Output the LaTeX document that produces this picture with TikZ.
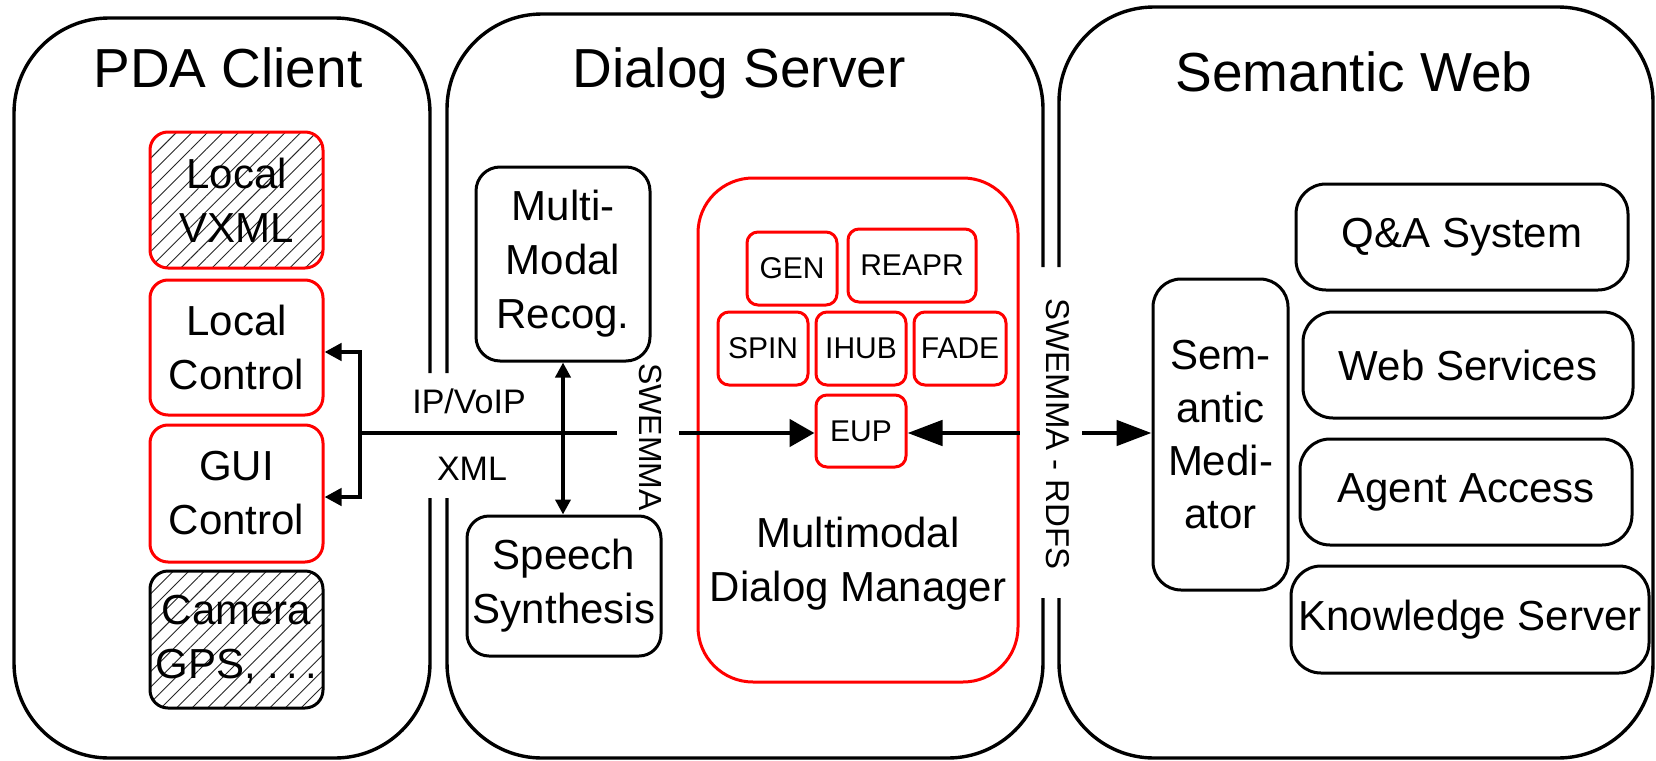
\documentclass[tikz,border=0pt]{standalone}
\usepackage{fontspec}
\setmainfont{Liberation Sans}
\usetikzlibrary{arrows.meta,patterns.meta}
\begin{document}
\begin{tikzpicture}[x=1pt,y=-1pt,
  panel/.style={line width=3.4pt, rounded corners=95pt},
  dims/.style 2 args={minimum width=#1pt, minimum height=#2pt},
  blk/.style={draw=black, line width=3pt, rounded corners=18pt, inner sep=0pt, align=center, font=\fontsize{42}{54}\selectfont},
  redb/.style={blk, draw=red},
  hatch/.style={pattern={Lines[angle=45,distance=11pt,line width=0.9pt]}, pattern color=black!85},
  tiny/.style={draw=red, line width=3pt, rounded corners=11pt, inner sep=0pt, font=\fontsize{30}{36}\selectfont},
  ttl/.style={anchor=base, font=\fontsize{55}{60}\selectfont},
  lbl/.style={anchor=base, font=\fontsize{34}{40}\selectfont},
  vlbl/.style={rotate=-90, inner sep=0pt},
  conn/.style={line width=4.8pt},
]
\path[use as bounding box] (0,0) rectangle (1656,760);

% panels
\draw[panel] (430,373) -- (430,18) -- (14,18) -- (14,758) -- (430,758) -- (430,498);
\draw[panel] (447,373) -- (447,14) -- (1043,14) -- (1043,267);
\draw[panel] (1043,598) -- (1043,758) -- (447,758) -- (447,498);
\draw[panel] (1059,267) -- (1059,7) -- (1653,7) -- (1653,758) -- (1059,758) -- (1059,598);

% titles
\node[ttl] (t1) at (228,88) {PDA Client};
\node[ttl] (t2) at (739,88) {Dialog Server};
\node[ttl] (t3) at (1354,92) {Semantic Web};

% PDA client boxes
\node[redb, hatch, dims={173}{136}] (lv) at (236.5,200) {Local\\VXML};
\node[redb, dims={173}{135}] (lc) at (236.5,347.5) {Local\\Control};
\node[redb, dims={173}{137}] (gc) at (236.5,493.5) {GUI\\Control};
\node[blk, hatch, dims={173}{137}] (cam) at (236.5,639.5) {Camera\\GPS, .\hspace{7pt}.\hspace{7pt}.};

% Dialog server boxes
\node[blk, rounded corners=24pt, dims={174}{194}] (mm) at (563,264) {Multi-\\Modal\\Recog.};
\node[blk, rounded corners=22pt, dims={194}{140}] (ss) at (564,586) {Speech\\Synthesis};
\node[draw=red, line width=3pt, rounded corners=55pt, dims={320}{504}] (mdm) at (858,430) {};
\node[font=\fontsize{42}{54}\selectfont, align=center] (mdmt) at (858,564) {Multimodal\\Dialog Manager};
\node[tiny, dims={90}{73}] (gen) at (792,268.5) {GEN};
\node[tiny, dims={128}{73}] (reapr) at (912,265.5) {REAPR};
\node[tiny, dims={90}{73}] (spin) at (763,348.5) {SPIN};
\node[tiny, dims={90}{73}] (ihub) at (861,348.5) {IHUB};
\node[tiny, dims={92}{73}] (fade) at (960,348.5) {FADE};
\node[tiny, dims={90}{72}] (eup) at (861,431) {EUP};

% Semantic web boxes
\node[blk, rounded corners=28pt, dims={135}{311}, font=\fontsize{42}{53}\selectfont] (sm) at (1220.5,434.5) {Sem-\\antic\\Medi-\\ator};
\node[blk, rounded corners=30pt, dims={332}{106}] (qa) at (1462,237) {Q\&A System};
\node[blk, rounded corners=30pt, dims={330}{106}] (ws) at (1468,365) {Web Services};
\node[blk, rounded corners=30pt, dims={332}{106}] (aa) at (1466,492) {Agent Access};
\node[blk, rounded corners=30pt, dims={358}{107}] (ks) at (1470,619.5) {Knowledge Server};

% labels
\node[lbl] (ip) at (469,413) {IP/VoIP};
\node[lbl] (xml) at (472,480) {XML};
\node[vlbl, font=\fontsize{32}{36}\selectfont] (sw1) at (651,437) {SWEMMA};
\node[vlbl, font=\fontsize{33}{36}\selectfont] (sw2) at (1058,434) {SWEMMA - RDFS};

% connectors
\coordinate (jn) at (360,433);
\coordinate (jt) at (360,352);
\coordinate (jb) at (360,497);
\coordinate (s1) at (617,433);
\coordinate (s2) at (679,433);
\coordinate (r1) at (1082,433);

\draw[conn, {Triangle[length=17pt,width=17pt]}-{Triangle[length=17pt,width=17pt]}]
  (jt -| lc.east) -- (jt) -- (jb) -- (jb -| gc.east);
\draw[conn] (jn) -- (s1);
\draw[conn, -{Triangle[length=25pt,width=27pt]}] (s2) -- (s2 -| eup.west);
\draw[conn, -{Triangle[length=35pt,width=25pt]}] (s2 -| mdm.east) -- (s2 -| eup.east);
\draw[conn, -{Triangle[length=35pt,width=25pt]}] (r1) -- (r1 -| sm.west);
\draw[line width=4.2pt, {Triangle[length=15pt,width=15pt]}-{Triangle[length=15pt,width=15pt]}]
  (mm.south) -- (mm.south |- ss.north);
\end{tikzpicture}
\end{document}
